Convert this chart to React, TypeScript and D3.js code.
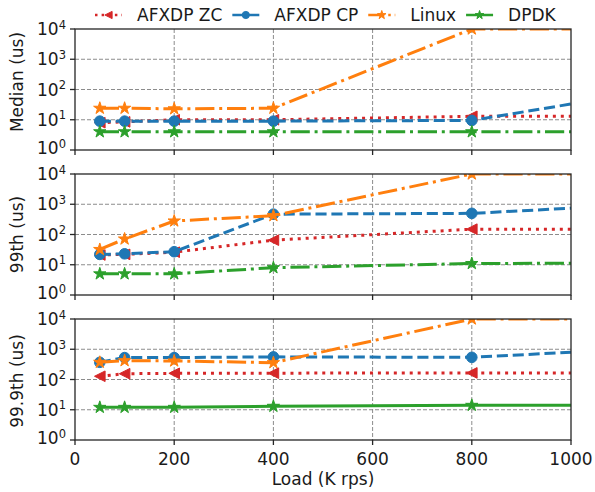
import React, { useEffect, useRef } from "react";
import * as d3 from "d3";

// load points (K rps); the last one sits past the x limit, the lines run off the edge
const loads = [50, 100, 200, 400, 800, 1600];
const seriesNames = ["AFXDP ZC", "AFXDP CP", "Linux", "DPDK"];

const medianZC = [8, 8.5, 10, 10, 13, 13];
const medianCP = [9, 9, 9, 9, 9.5, 1400];
const medianLinux = [24, 24, 23, 24, 10000, 10000];
const medianDPDK = [4, 4, 4, 4, 4, 4];

const p99ZC = [21, 22, 26, 65, 150, 150];
const p99CP = [22, 23, 27, 470, 500, 2400];
const p99Linux = [32, 71, 280, 420, 10000, 10000];
const p99DPDK = [5, 5, 5, 8, 11, 12];

const p999ZC = [128, 155, 160, 162, 165, 165];
const p999CP = [370, 530, 530, 560, 540, 2600];
const p999Linux = [370, 420, 410, 360, 10000, 10000];
const p999DPDK = [12, 12, 12, 13, 14, 14.5];

const panelLabels = ["Median (us)", "99th (us)", "99.9th (us)"];
const xTicks = [0, 200, 400, 600, 800, 1000];
const yExponents = [0, 1, 2, 3, 4];

const colors = ["#d62728", "#1f77b4", "#ff7f0e", "#2ca02c"];
const markers = ["triLeft", "circle", "star", "star"];
const LW = 3;
const dashes: Record<string, number[] | null> = {
  dotted: [1, 1.65],
  dashed: [3.7, 1.6],
  dashdot: [6.4, 1.6, 1, 1.6],
  solid: null,
};
// DPDK is solid in the bottom panel only
const panelStyles = [
  ["dotted", "dashed", "dashdot", "dashdot"],
  ["dotted", "dashed", "dashdot", "dashdot"],
  ["dotted", "dashed", "dashdot", "solid"],
];
const legendStyles = ["dotted", "solid", "dashdot", "solid"];

const W = 595;
const H = 492;
const AX_L = 75;
const AX_R = 571;
const PANEL_TOPS = [29, 174, 319];
const PANEL_H = 121;
const LABEL_Y = [82, 234.5, 381];
const FONT = "DejaVu Sans, sans-serif";

function markerPath(kind: string, r: number) {
  if (kind === "circle") {
    return `M${r},0A${r},${r} 0 1 1 ${-r},0A${r},${r} 0 1 1 ${r},0Z`;
  }
  if (kind === "triLeft") {
    return `M${-r},0L${r},${-r}L${r},${r}Z`;
  }
  const pts: string[] = [];
  for (let k = 0; k < 10; k++) {
    const a = -Math.PI / 2 + (k * Math.PI) / 5;
    const rr = k % 2 === 0 ? r : r * 0.381966;
    pts.push(`${(rr * Math.cos(a)).toFixed(2)},${(rr * Math.sin(a)).toFixed(2)}`);
  }
  return "M" + pts.join("L") + "Z";
}

function dashArray(style: string, lw: number) {
  const d = dashes[style];
  return d ? d.map((v) => v * lw).join(",") : null;
}

const App = () => {
  const ref = useRef<SVGSVGElement>(null);

  useEffect(() => {
    const svg = d3.select(ref.current);
    svg.selectAll("*").remove();
    const defs = svg.append("defs");

    const panels = [
      [medianZC, medianCP, medianLinux, medianDPDK],
      [p99ZC, p99CP, p99Linux, p99DPDK],
      [p999ZC, p999CP, p999Linux, p999DPDK],
    ];

    const x = d3.scaleLinear().domain([0, 1000]).range([AX_L, AX_R]);

    panels.forEach((series, i) => {
      const top = PANEL_TOPS[i];
      const bottom = top + PANEL_H;
      const y = d3.scaleLog().domain([1, 1e4]).range([bottom, top]);
      const g = svg.append("g");

      defs
        .append("clipPath")
        .attr("id", "clip" + i)
        .append("rect")
        .attr("x", AX_L)
        .attr("y", top)
        .attr("width", AX_R - AX_L)
        .attr("height", PANEL_H);

      // grid
      const grid = g
        .append("g")
        .attr("stroke", "#8c8c8c")
        .attr("stroke-width", 1)
        .attr("stroke-dasharray", "4,2");
      xTicks.slice(1, -1).forEach((t) => {
        grid.append("line").attr("x1", x(t)).attr("x2", x(t)).attr("y1", top).attr("y2", bottom);
      });
      yExponents.slice(1, -1).forEach((e) => {
        const yy = y(Math.pow(10, e));
        grid.append("line").attr("x1", AX_L).attr("x2", AX_R).attr("y1", yy).attr("y2", yy);
      });

      // data
      const plot = g.append("g").attr("clip-path", `url(#clip${i})`);
      const line = d3
        .line<number>()
        .x((d, k) => x(loads[k]))
        .y((d) => y(d));
      series.forEach((vals, s) => {
        const da = dashArray(panelStyles[i][s], LW);
        plot
          .append("path")
          .attr("d", line(vals))
          .attr("fill", "none")
          .attr("stroke", colors[s])
          .attr("stroke-width", LW)
          .attr("stroke-dasharray", da)
          .attr("stroke-linejoin", "round");
        const r = markers[s] === "star" ? 6.5 : 5.3;
        vals.forEach((v, k) => {
          plot
            .append("path")
            .attr("d", markerPath(markers[s], r))
            .attr("transform", `translate(${x(loads[k])},${y(v)})`)
            .attr("fill", colors[s])
            .attr("stroke", colors[s])
            .attr("stroke-width", 1);
        });
      });

      // spines
      g.append("rect")
        .attr("x", AX_L)
        .attr("y", top)
        .attr("width", AX_R - AX_L)
        .attr("height", PANEL_H)
        .attr("fill", "none")
        .attr("stroke", "#262626")
        .attr("stroke-width", 1.3);

      // ticks
      xTicks.forEach((t) => {
        g.append("line")
          .attr("x1", x(t))
          .attr("x2", x(t))
          .attr("y1", bottom)
          .attr("y2", bottom + 5)
          .attr("stroke", "#262626")
          .attr("stroke-width", 1.3);
        if (i === 2) {
          g.append("text")
            .attr("x", x(t))
            .attr("y", 464.5)
            .attr("text-anchor", "middle")
            .attr("font-family", FONT)
            .attr("font-size", 17)
            .attr("fill", "#1a1a1a")
            .text(t);
        }
      });
      yExponents.forEach((e) => {
        const yy = y(Math.pow(10, e));
        g.append("line")
          .attr("x1", AX_L - 5)
          .attr("x2", AX_L)
          .attr("y1", yy)
          .attr("y2", yy)
          .attr("stroke", "#262626")
          .attr("stroke-width", 1.3);
        const tx = g
          .append("text")
          .attr("x", AX_L - 9)
          .attr("y", yy + (e === 0 ? 4 : 6))
          .attr("text-anchor", "end")
          .attr("font-family", FONT)
          .attr("font-size", 17)
          .attr("fill", "#1a1a1a");
        tx.append("tspan").text("10");
        tx.append("tspan").attr("dy", -6.5).attr("font-size", 11.5).text(e);
      });

      // y label
      g.append("text")
        .attr("transform", `translate(23,${LABEL_Y[i]}) rotate(-90)`)
        .attr("text-anchor", "middle")
        .attr("font-family", FONT)
        .attr("font-size", 17)
        .attr("fill", "#1a1a1a")
        .text(panelLabels[i]);
    });

    // x label
    svg
      .append("text")
      .attr("x", (AX_L + AX_R) / 2)
      .attr("y", 485)
      .attr("text-anchor", "middle")
      .attr("font-family", FONT)
      .attr("font-size", 17)
      .attr("fill", "#1a1a1a")
      .text("Load (K rps)");

    // legend above the top panel
    const leg = svg.append("g");
    let cx = 95;
    const ly = 15;
    seriesNames.forEach((name, s) => {
      leg
        .append("line")
        .attr("x1", cx)
        .attr("x2", cx + 27)
        .attr("y1", ly)
        .attr("y2", ly)
        .attr("stroke", colors[s])
        .attr("stroke-width", 2.5)
        .attr("stroke-dasharray", dashArray(legendStyles[s], 2.5));
      leg
        .append("path")
        .attr("d", markerPath(markers[s], markers[s] === "star" ? 4.5 : 3.6))
        .attr("transform", `translate(${cx + 13.5},${ly})`)
        .attr("fill", colors[s])
        .attr("stroke", colors[s])
        .attr("stroke-width", 1);
      const t = leg
        .append("text")
        .attr("x", cx + 42)
        .attr("y", ly + 6)
        .attr("font-family", FONT)
        .attr("font-size", 17)
        .attr("fill", "#1a1a1a")
        .text(name);
      const w = (t.node() as SVGTextElement).getComputedTextLength();
      cx = cx + 42 + w + 10;
    });
  }, []);

  return (
    <svg
      ref={ref}
      width={W}
      height={H}
      style={{ position: "absolute", left: 0, top: 0, background: "#fff" }}
    />
  );
};

export default App;
